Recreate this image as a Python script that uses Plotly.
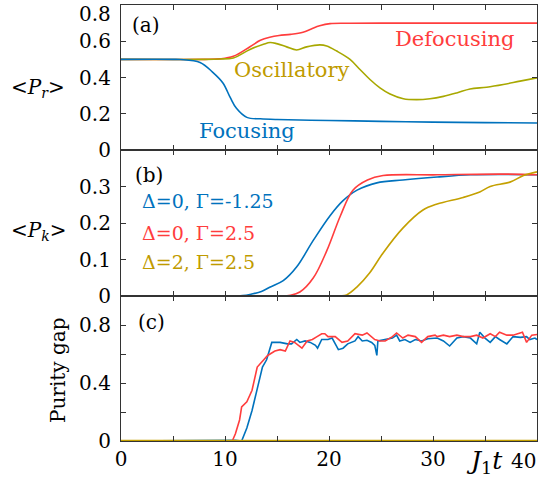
import plotly.graph_objects as go
from plotly.subplots import make_subplots

# ---------------- data ----------------
# panel (a) <P_r>
ta_foc = [0, 5, 5.7, 7.6, 8.8, 9.8, 10.5, 11.1, 12.1, 13.4, 15, 20, 25, 30, 35, 40]
va_foc = [0.5, 0.5, 0.499, 0.483, 0.43, 0.37, 0.29, 0.23, 0.18, 0.172, 0.168, 0.163, 0.158, 0.154, 0.151, 0.149]

ta_def = [0, 8, 9.5, 10.8, 12.4, 13.4, 14.3, 15.2, 16.3, 17.5, 18.3, 19.1, 20.1, 22, 25, 30, 35, 40]
va_def = [0.5, 0.5, 0.503, 0.517, 0.57, 0.605, 0.622, 0.632, 0.638, 0.65, 0.668, 0.685, 0.697, 0.699, 0.7, 0.7, 0.7, 0.7]

ta_osc = [0, 8, 9.5, 10.8, 12.4, 13.7, 14.33, 14.97, 15.93, 16.89, 17.85, 19.13, 19.78, 20.74, 22.02,
          22.98, 23.94, 24.9, 25.87, 27.15, 28.43, 29.71, 31.0, 32.28, 33.56, 35.16, 36.76, 38.37, 40]
va_osc = [0.5, 0.5, 0.502, 0.508, 0.555, 0.583, 0.593, 0.587, 0.569, 0.552, 0.569, 0.58, 0.574, 0.546, 0.5,
          0.444, 0.389, 0.343, 0.309, 0.283, 0.278, 0.283, 0.296, 0.315, 0.337, 0.346, 0.361, 0.38, 0.398]

# panel (b) <P_k>
tb_1 = [0, 11, 11.7, 12.5, 13.5, 14.3, 15.6, 16.9, 18.5, 20.1, 21.3, 22.7, 24.6, 27.1, 30.4, 33.6, 37, 40]
vb_1 = [0, 0, 0.001, 0.005, 0.012, 0.024, 0.042, 0.08, 0.153, 0.22, 0.26, 0.29, 0.31, 0.318, 0.326, 0.332, 0.333, 0.332]

tb_2 = [0, 15, 16.3, 17.2, 18.5, 19.8, 21.1, 22.3, 23.7, 25.2, 30.4, 36.7, 40]
vb_2 = [0, 0, 0.002, 0.011, 0.05, 0.125, 0.22, 0.29, 0.318, 0.33, 0.332, 0.334, 0.332]

tb_3 = [0, 21, 21.7, 22.7, 23.9, 25.2, 27.1, 29.0, 30.4, 32.9, 34.5, 35.5, 37.4, 38.7, 40]
vb_3 = [0, 0, 0.003, 0.025, 0.063, 0.118, 0.186, 0.235, 0.252, 0.27, 0.285, 0.3, 0.312, 0.33, 0.34]

# panel (c) purity gap
tc_1 = [0, 11.0, 11.6, 12.1, 12.6, 13.1, 13.6, 14.0, 14.5, 15.3, 16.0, 16.4, 16.9, 17.2, 17.7, 18.2, 18.7, 18.9, 19.3, 19.9,
        20.3, 20.9, 21.35, 21.8, 22.5, 22.8, 23.2, 23.65, 24.1, 24.4, 24.6, 24.7, 25.4, 26.1, 26.5, 26.8, 27.3, 27.8, 28.3, 28.9,
        29.5, 30.2, 30.4, 31.0, 31.6, 32.3, 32.9, 33.6, 34.2, 34.5, 35.0, 35.5, 36.0, 36.4, 37.1, 37.7, 38.4, 39.0, 39.3, 39.8, 40]
vc_1 = [0, 0.005, 0, 0.09, 0.21, 0.37, 0.51, 0.56, 0.68, 0.68, 0.67, 0.67, 0.70, 0.68, 0.69, 0.68, 0.66, 0.64, 0.70, 0.70,
        0.71, 0.63, 0.64, 0.67, 0.69, 0.72, 0.69, 0.695, 0.68, 0.66, 0.59, 0.69, 0.70, 0.71, 0.73, 0.69, 0.70, 0.68, 0.70, 0.69,
        0.705, 0.705, 0.71, 0.69, 0.655, 0.71, 0.72, 0.71, 0.67, 0.75, 0.71, 0.68, 0.72, 0.70, 0.67, 0.72, 0.715, 0.72, 0.70, 0.71, 0.70]

tc_2 = [0, 10.7, 11.0, 11.4, 11.6, 12.1, 12.6, 13.1, 13.6, 14.1, 14.8, 15.3, 15.8, 16.25, 16.7, 17.2, 17.4, 17.9, 18.4, 18.85,
        19.3, 19.6, 19.9, 20.1, 20.6, 21.25, 21.8, 22.5, 23.2, 23.65, 24.1, 24.4, 24.9, 25.4, 26.1, 26.5, 27.1, 27.6, 28.3, 28.9,
        29.5, 30.2, 30.4, 31.0, 31.6, 32.3, 32.9, 33.6, 34.2, 34.8, 35.5, 36.0, 36.4, 37.1, 37.7, 38.6, 39.0, 39.5, 40]
vc_2 = [0, 0, 0.05, 0.145, 0.235, 0.27, 0.35, 0.51, 0.55, 0.59, 0.62, 0.63, 0.62, 0.69, 0.68, 0.65, 0.64, 0.69, 0.70, 0.72,
        0.74, 0.74, 0.72, 0.72, 0.72, 0.68, 0.69, 0.74, 0.73, 0.745, 0.72, 0.70, 0.69, 0.69, 0.72, 0.745, 0.71, 0.73, 0.72, 0.68,
        0.72, 0.73, 0.72, 0.73, 0.72, 0.73, 0.72, 0.72, 0.73, 0.71, 0.74, 0.72, 0.75, 0.73, 0.73, 0.75, 0.68, 0.73, 0.735]

tc_3 = [0, 40]
vc_3 = [0, 0]

# labelled ticks (the edge labels "40" and top "0.8" are placed as text so they stay on the page)
x_labelled = [0, 10, 20, 30]
ya_labelled = [0, 0.2, 0.4, 0.6]
yb_labelled = [0, 0.1, 0.2, 0.3]
yc_labelled = [0, 0.4, 0.8]

BLUE = "#0072BD"
RED = "#FF3D3D"
OLIVE_A = "#A8A800"
OLIVE = "#C4A000"
OLIVE_TXT = "#BF9B00"
FONT = "DejaVu Serif"
TICKC = "#333333"

fig = make_subplots(rows=3, cols=1, shared_xaxes=True, vertical_spacing=0)

lw = 1.6
fig.add_trace(go.Scatter(x=ta_def, y=va_def, mode="lines", line=dict(color=RED, width=lw, shape="spline")), row=1, col=1)
fig.add_trace(go.Scatter(x=ta_osc, y=va_osc, mode="lines", line=dict(color=OLIVE_A, width=lw, shape="spline")), row=1, col=1)
fig.add_trace(go.Scatter(x=ta_foc, y=va_foc, mode="lines", line=dict(color=BLUE, width=lw, shape="spline")), row=1, col=1)

fig.add_trace(go.Scatter(x=tb_1, y=vb_1, mode="lines", line=dict(color=BLUE, width=lw, shape="spline")), row=2, col=1)
fig.add_trace(go.Scatter(x=tb_2, y=vb_2, mode="lines", line=dict(color=RED, width=lw, shape="spline")), row=2, col=1)
fig.add_trace(go.Scatter(x=tb_3, y=vb_3, mode="lines", line=dict(color=OLIVE, width=lw, shape="spline")), row=2, col=1)

fig.add_trace(go.Scatter(x=tc_1, y=vc_1, mode="lines", line=dict(color=BLUE, width=lw)), row=3, col=1)
fig.add_trace(go.Scatter(x=tc_2, y=vc_2, mode="lines", line=dict(color=RED, width=lw)), row=3, col=1)
fig.add_trace(go.Scatter(x=tc_3, y=vc_3, mode="lines", line=dict(color=OLIVE, width=2.5)), row=3, col=1)

axis_common = dict(showline=True, linecolor=TICKC, linewidth=1.2, mirror="ticks",
                   ticks="inside", ticklen=5, tickwidth=1.2, tickcolor=TICKC,
                   showgrid=False, zeroline=False, automargin=False,
                   tickfont=dict(family=FONT, size=20, color="black"))


def minor(step):
    return dict(ticks="inside", ticklen=5, tickwidth=1.2, tickcolor=TICKC, tick0=0, dtick=step, showgrid=False)


H0, H1 = 145 / 436, 291 / 436
fig.update_layout(
    width=539, height=482,
    margin=dict(l=121, r=2, t=5, b=41),
    paper_bgcolor="white", plot_bgcolor="white",
    showlegend=False,
    yaxis=dict(domain=[H1, 1], range=[0, 0.8], tickmode="array", tickvals=ya_labelled,
               minor=minor(0.2), ticklabelstandoff=5, **axis_common),
    yaxis2=dict(domain=[H0, H1], range=[0, 0.4], tickmode="array", tickvals=yb_labelled,
                ticklabelstandoff=5, **axis_common),
    yaxis3=dict(domain=[0, H0], range=[0, 1.0], tickmode="array", tickvals=yc_labelled,
                minor=minor(0.2), ticklabelstandoff=5, **axis_common),
    xaxis=dict(range=[0, 40], tickmode="array", tickvals=x_labelled, minor=minor(5), **axis_common),
    xaxis2=dict(range=[0, 40], tickmode="array", tickvals=x_labelled, minor=minor(5), **axis_common),
    xaxis3=dict(range=[0, 40], tickmode="array", tickvals=x_labelled, minor=minor(5), **axis_common),
)


def pxx(x):
    return (x - 121) / 416


def pyy(y):
    return (441 - y) / 436


def note(text, x, y, color="black", size=20, angle=0, xanchor="center"):
    fig.add_annotation(text=text, x=pxx(x), y=pyy(y), xref="paper", yref="paper",
                       showarrow=False, xanchor=xanchor, yanchor="middle", textangle=angle,
                       font=dict(family=FONT, size=size, color=color))


note("(a)", 146, 25)
note("(b)", 149, 175)
note("(c)", 151, 322)
note("Defocusing", 454, 39, RED, 21)
note("Oscillatory", 292, 70, OLIVE_TXT, 21)
note("Focusing", 247, 131, BLUE, 21)
note("Δ=0, Γ=-1.25", 140, 201, BLUE, 19, xanchor="left")
note("Δ=0, Γ=2.5", 140, 233, RED, 19, xanchor="left")
note("Δ=2, Γ=2.5", 140, 262, OLIVE_TXT, 19, xanchor="left")
note("&lt;<i>P</i><sub><i>r</i></sub>&gt;", 38, 88, size=20)
note("&lt;<i>P</i><sub><i>k</i></sub>&gt;", 38, 231, size=20)
note("Purity gap", 58, 370, size=20, angle=-90)
note("<i>J</i><sub>1</sub><i>t</i>", 484, 462, size=25)
note("0.8", 113, 14, size=20, xanchor="right")
note("40", 538, 461, size=20, xanchor="right")

fig.write_html("out.html",
               config={"displayModeBar": False},
               post_script="document.body.style.margin='0';document.body.style.overflow='hidden';")
